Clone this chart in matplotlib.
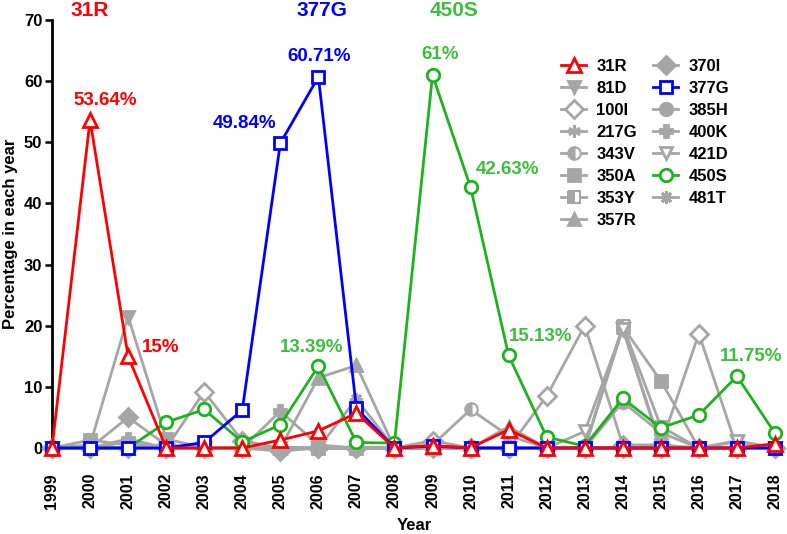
import matplotlib.pyplot as plt

plt.rcParams['font.family'] = ['Liberation Sans', 'DejaVu Sans']
plt.rcParams['font.weight'] = 'bold'

years = list(range(1999, 2019))

# highlighted mutations
r31 = [0, 53.64, 15, 0, 0, 0, 1.3, 2.8, 5.7, 0, 0.4, 0, 3, 0, 0, 0, 0, 0, 0, 0.7]
g377 = [0, 0, 0, 0, 0.9, 6.2, 49.84, 60.71, 6.5, 0, 0.3, 0, 0, 0, 0, 0, 0, 0, 0, 0]
s450 = [0, 0, 0, 4.2, 6.3, 1.0, 3.8, 13.39, 0.9, 0.8, 61, 42.63, 15.13, 1.8, 0.3, 8.1, 3.3, 5.4, 11.75, 2.4]

# other mutations (grey)
d81 = [0, 0.5, 21.5, 1.5, 0, 0, 0, 0, 0, 0, 0, 0, 0, 0, 0, 19.5, 0.5, 0, 1, 0]
i100 = [0, 0, 0, 0, 9.2, 1.2, 0, 0, 0, 0, 1.2, 0, 0, 8.5, 20, 0.5, 0.5, 18.7, 0, 0]
g217 = [0, 0, 1, 0, 0, 0, 0, 0, 0, 0, 0, 0, 0, 0, 0, 0, 0, 0, 0, 0]
v343 = [0, 0, 0, 0, 0, 0, 0, 0, 0, 0, 0.5, 6.3, 2, 0, 0, 0, 0, 0, 0, 0]
a350 = [0, 1.3, 0.5, 0, 0, 0, 0, 0, 0, 0, 0, 0, 0, 0, 0, 19.8, 11, 0, 0, 0]
y353 = [0, 0, 0, 0, 0, 0, 0, 0, 0, 0, 0, 0, 0, 0, 0, 20, 3.5, 0, 0, 0]
r357 = [0, 0, 0, 0, 0, 0, 0, 11.5, 13.5, 0, 0, 0, 3.5, 0, 0, 0, 0, 0, 0, 0]
i370 = [0, 0, 5, 0.5, 0, 0, -0.5, 0, 0, 0, 0, 0, 0, 0, 0, 0, 0, 0, 0, 0]
h385 = [0, 0, 0, 0, 0, 0, 0, 0, 0, 0, 0, 0, 0, 0, 0, 7.5, 2.5, 0, 0, 0]
k400 = [0, 0, 1.5, 0, 0, 0, 6, 0.5, 0, 0, 0, 0, 0, 0, 0, 0, 0, 0, 0, 0]
d421 = [0, 0, 0, 0, 0, 0, 0, 0, 0, 0, 0, 0, 0, 0, 2.7, 19.5, 0, 0, 1.2, 0]
t481 = [0, 0, 0, 0, 0, 0, 0, 0, 8, 0, 0, 0, 0, 0, 0, 0, 0, 0, 0, 0]

red = '#ff0000'
blue = '#0000ff'
green = '#1db31d'
green_txt = '#3cbf3c'
grey = '#a6a6a6'

fig = plt.figure(figsize=(7.87, 5.34), dpi=100)
ax = fig.add_axes([52 / 787, 86 / 534, 723 / 787, 428 / 534])

lw = 2.0
ms = 9
# (label, data, marker, fill, color)
series = [
    ('31R', r31, '^', 'none', red),
    ('81D', d81, 'v', 'full', grey),
    ('100I', i100, 'D', 'none', grey),
    ('217G', g217, (6, 2, 0), 'full', grey),
    ('343V', v343, 'o', 'left', grey),
    ('350A', a350, 's', 'full', grey),
    ('353Y', y353, 's', 'left', grey),
    ('357R', r357, '^', 'full', grey),
    ('370I', i370, 'D', 'full', grey),
    ('377G', g377, 's', 'none', blue),
    ('385H', h385, 'o', 'full', grey),
    ('400K', k400, 'P', 'full', grey),
    ('421D', d421, 'v', 'none', grey),
    ('450S', s450, 'o', 'none', green),
    ('481T', t481, (8, 2, 0), 'full', grey),
]
zorders = {'31R': 10, '377G': 9, '450S': 8}

for label, vals, mk, fill, col in series:
    kw = dict(color=col, lw=lw, marker=mk, ms=ms, mew=2, label=label,
              zorder=zorders.get(label, 3), clip_on=False)
    if fill == 'none':
        kw.update(mfc='white', mec=col)
    elif fill == 'left':
        kw.update(fillstyle='left', mfc=col, mfcalt='white', mec=col, mew=1.5)
    else:
        kw.update(mfc=col, mec=col)
    if mk == '^' and fill == 'none':
        kw['ms'] = 10
    ax.plot(years, vals, **kw)

ax.set_xlim(1999, 2018)
ax.set_ylim(0, 70)
ax.set_yticks(range(0, 71, 10))
ax.set_xticks(years)
ax.set_xticklabels([str(y) for y in years], rotation=90, fontsize=11.5, fontweight='bold')
for t in ax.get_yticklabels():
    t.set_fontsize(12)
    t.set_fontweight('bold')

for s in ['top', 'right', 'bottom']:
    ax.spines[s].set_visible(False)
ax.spines['left'].set_linewidth(2)
ax.tick_params(axis='x', length=0, pad=18)
ax.tick_params(axis='y', length=5, width=1.8, pad=2)

fig.text(414 / 787, 1 - 525 / 534, 'Year', fontsize=12, fontweight='bold', ha='center', va='center')
ax.set_ylabel('Percentage in each year', fontsize=12, fontweight='bold', labelpad=4)

# peak labels
fs = 13.5
ax.text(2000, 71.6, '31R', color=red, fontsize=15, fontweight='bold', ha='center', va='center', clip_on=False)
ax.text(2006.1, 71.6, '377G', color=blue, fontsize=15, fontweight='bold', ha='center', va='center', clip_on=False)
ax.text(2009.57, 71.6, '450S', color=green_txt, fontsize=15, fontweight='bold', ha='center', va='center', clip_on=False)

ax.text(2000.39, 56.9, '53.64%', color=red, fontsize=fs, fontweight='bold', ha='center', va='center')
ax.text(2001.86, 16.4, '15%', color=red, fontsize=fs, fontweight='bold', ha='center', va='center')
ax.text(2004.07, 53.0, '49.84%', color=blue, fontsize=fs, fontweight='bold', ha='center', va='center')
ax.text(2006.02, 64.1, '60.71%', color=blue, fontsize=fs, fontweight='bold', ha='center', va='center')
ax.text(2005.83, 16.4, '13.39%', color=green_txt, fontsize=fs, fontweight='bold', ha='center', va='center')
ax.text(2009.2, 64.3, '61%', color=green_txt, fontsize=fs, fontweight='bold', ha='center', va='center')
ax.text(2010.96, 45.6, '42.63%', color=green_txt, fontsize=fs, fontweight='bold', ha='center', va='center')
ax.text(2011.83, 18.2, '15.13%', color=green_txt, fontsize=fs, fontweight='bold', ha='center', va='center')
ax.text(2017.37, 14.9, '11.75%', color=green_txt, fontsize=fs, fontweight='bold', ha='center', va='center')

ax.legend(ncol=2, frameon=False, loc='upper left', bbox_to_anchor=(0.695, 0.925),
          prop={'weight': 'bold', 'size': 12}, handlelength=1.5, handletextpad=0.6,
          columnspacing=1.0, labelspacing=0.42, borderaxespad=0)

fig.savefig('out.png', dpi=100)
